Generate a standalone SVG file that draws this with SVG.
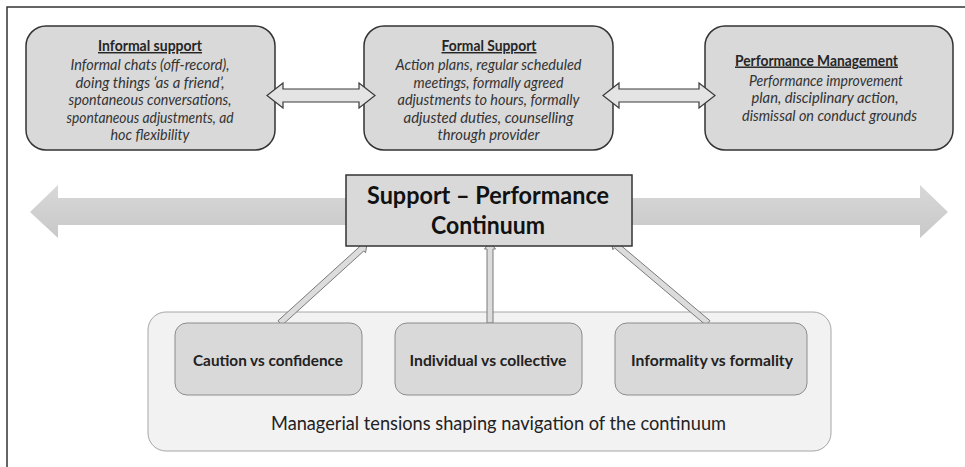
<svg xmlns="http://www.w3.org/2000/svg" width="965" height="467" viewBox="0 0 965 467">
<defs>
<linearGradient id="bigG" x1="0" y1="0" x2="0" y2="1">
<stop offset="0" stop-color="#d8d8d8"/>
<stop offset="1" stop-color="#c8c8c8"/>
</linearGradient>
<style>
.top{fill:#d9d9d9;stroke:#333;stroke-width:1.5}
.dbl{fill:#e4e4e4;stroke:#3a3a3a;stroke-width:1.2;stroke-linejoin:miter}
.thin{fill:#dcdcdc;stroke:#7a7a7a;stroke-width:1}
.inner{fill:#d9d9d9;stroke:#8c8c8c;stroke-width:1}
.cont{fill:#f2f2f2;stroke:#a6a6a6;stroke-width:1}
text{font-family:Lato,"Liberation Sans",sans-serif;fill:#262626;text-anchor:middle}
.ttl{font-weight:bold;font-size:14.5px;text-decoration:underline}
.it{font-style:italic;font-size:14.8px;fill:#333}
.big{font-weight:bold;font-size:24px;fill:#111}
.tb{font-weight:bold;font-size:14.8px;fill:#222}
.cap{font-size:18.5px;fill:#222}
</style>
</defs>
<rect x="7" y="7" width="980" height="480" fill="#fff" stroke="#333" stroke-width="1.5"/>

<g id="continuum-arrow">
<polygon points="30,212 58,185 58,198 920,198 920,185 948,212 920,238 920,225 58,225 58,238" fill="url(#bigG)"/>
</g>

<g id="informal">
<rect class="top" x="26" y="26" width="249" height="124" rx="20"/>
<text class="ttl" x="150" y="51" textLength="104" lengthAdjust="spacingAndGlyphs">Informal support</text>
<text class="it" x="150" y="70" textLength="159" lengthAdjust="spacingAndGlyphs">Informal chats (off-record),</text>
<text class="it" x="150" y="87.5" textLength="149" lengthAdjust="spacingAndGlyphs">doing things ‘as a friend’,</text>
<text class="it" x="150" y="105" textLength="163" lengthAdjust="spacingAndGlyphs">spontaneous conversations,</text>
<text class="it" x="150" y="122.5" textLength="167" lengthAdjust="spacingAndGlyphs">spontaneous adjustments, ad</text>
<text class="it" x="150" y="140" textLength="79" lengthAdjust="spacingAndGlyphs">hoc flexibility</text>
</g>

<g id="formal">
<rect class="top" x="364" y="26" width="249" height="124" rx="20"/>
<text class="ttl" x="489" y="51" textLength="95" lengthAdjust="spacingAndGlyphs">Formal Support</text>
<text class="it" x="488.5" y="70" textLength="186" lengthAdjust="spacingAndGlyphs">Action plans, regular scheduled</text>
<text class="it" x="488.5" y="87.5" textLength="150" lengthAdjust="spacingAndGlyphs">meetings, formally agreed</text>
<text class="it" x="488.5" y="105" textLength="182" lengthAdjust="spacingAndGlyphs">adjustments to hours, formally</text>
<text class="it" x="488.5" y="122.5" textLength="170" lengthAdjust="spacingAndGlyphs">adjusted duties, counselling</text>
<text class="it" x="488.5" y="140" textLength="102" lengthAdjust="spacingAndGlyphs">through provider</text>
</g>

<g id="performance">
<rect class="top" x="705" y="26" width="248" height="124" rx="20"/>
<text class="ttl" x="816.5" y="65.5" textLength="163" lengthAdjust="spacingAndGlyphs">Performance Management</text>
<text class="it" x="826" y="85.5" textLength="154" lengthAdjust="spacingAndGlyphs">Performance improvement</text>
<text class="it" x="825" y="103" textLength="147" lengthAdjust="spacingAndGlyphs">plan, disciplinary action,</text>
<text class="it" x="829.5" y="120.5" textLength="175" lengthAdjust="spacingAndGlyphs">dismissal on conduct grounds</text>
</g>

<g id="tensions">
<rect class="cont" x="148" y="312" width="683" height="139" rx="18"/>
<text class="cap" x="498.5" y="430" textLength="455" lengthAdjust="spacingAndGlyphs">Managerial tensions shaping navigation of the continuum</text>
</g>

<g id="connectors">
<polygon class="dbl" points="267,95.5 283,83 283,89 359,89 359,83 375,95.5 359,108 359,102 283,102 283,108"/>
<polygon class="dbl" points="603,95.5 619,83 619,89 699,89 699,83 715,95.5 699,108 699,102 619,102 619,108"/>
<polygon class="thin" points="282.02,325.22 363.84,250.93 365.52,252.78 367,244 358.12,244.64 359.8,246.49 277.98,320.78"/>
<polygon class="thin" points="487,323 487,249 484.5,249 490,242 495.5,249 493,249 493,323"/>
<polygon class="thin" points="709.94,320.71 618.29,243.23 619.9,241.32 611,241 612.8,249.72 614.41,247.81 706.06,325.29"/>
</g>

<g id="continuum">
<rect x="346" y="175" width="286" height="71" fill="#d9d9d9" stroke="#333" stroke-width="1.5"/>
<text class="big" x="488" y="204" textLength="242" lengthAdjust="spacingAndGlyphs">Support – Performance</text>
<text class="big" x="488" y="234" textLength="114" lengthAdjust="spacingAndGlyphs">Continuum</text>
</g>

<g id="caution">
<rect class="inner" x="175" y="323" width="187" height="72" rx="12"/>
<text class="tb" x="268" y="366" textLength="150" lengthAdjust="spacingAndGlyphs">Caution vs confidence</text>
</g>
<g id="individual">
<rect class="inner" x="395" y="323" width="187" height="72" rx="12"/>
<text class="tb" x="488" y="366" textLength="157" lengthAdjust="spacingAndGlyphs">Individual vs collective</text>
</g>
<g id="informality">
<rect class="inner" x="615" y="323" width="192" height="72" rx="12"/>
<text class="tb" x="712" y="366" textLength="162" lengthAdjust="spacingAndGlyphs">Informality vs formality</text>
</g>
</svg>
